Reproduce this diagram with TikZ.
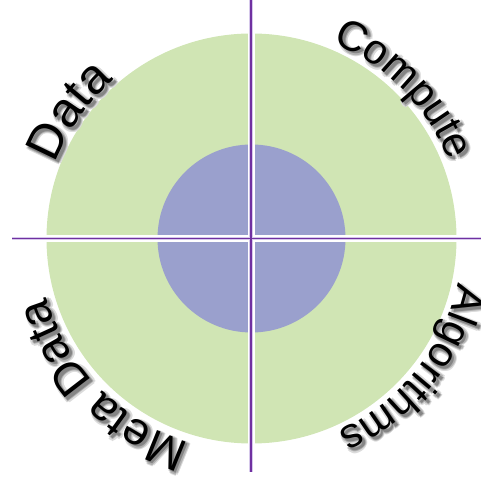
\documentclass[tikz,border=0pt]{standalone}
\usepackage{fontspec}
\setmainfont{Liberation Sans}
\usetikzlibrary{decorations.text}

\definecolor{ringgreen}{RGB}{208,229,180}
\definecolor{corepurple}{RGB}{154,160,205}
\definecolor{axispurple}{RGB}{112,48,160}
\definecolor{axishalo}{RGB}{214,200,235}

% one copy of a label on a clockwise arc round the hub
% #1 radius, #2 centre angle, #3 font size, #4 colour, #5 x shift, #6 y shift, #7 text
\newcommand\arccopy[7]{%
  \path[decorate, decoration={text along path, text align=center,
      text={|\fontsize{#3}{#3}\selectfont\color{#4}|#7}}]
      ([shift={(#2+50:#1pt)}, xshift={(#5)*1pt}, yshift={(#6)*1pt}]hub)
      arc[start angle=#2+50, end angle=#2-50, radius=#1pt];
}

% label with a soft drop shadow built from layered grey copies
% #1 baseline radius, #2 centre angle, #3 font size, #4 text
\newcommand\ringlabel[4]{%
  \foreach \ang in {0,45,...,315}{%
    \arccopy{#1}{#2}{#3}{black!14}{2.8+2.4*cos(\ang)}{-2.8+2.4*sin(\ang)}{#4}%
  }%
  \foreach \ang in {0,90,180,270}{%
    \arccopy{#1}{#2}{#3}{black!30}{2.8+1.2*cos(\ang)}{-2.8+1.2*sin(\ang)}{#4}%
  }%
  \arccopy{#1}{#2}{#3}{black!48}{2.8}{-2.8}{#4}%
  \arccopy{#1}{#2}{#3}{black}{0}{0}{#4}%
}

\begin{document}
\begin{tikzpicture}[x=1pt, y=1pt,
    gap/.style={draw=white, line width=6.8pt},
    halo/.style={draw=axishalo, line width=3.2pt},
    axis/.style={draw=axispurple, line width=1.5pt}]
  \useasboundingbox (0,0) rectangle (481,476);
  \coordinate (hub) at (251.5,237.5);

  % outer ring and core
  \fill[ringgreen] (hub) circle[radius=205pt];
  \fill[corepurple] (hub) circle[radius=94pt];

  % white gaps between the quadrants
  \coordinate (gapN) at (251.7,450);
  \coordinate (gapS) at (251.7,25);
  \coordinate (gapW) at (40,237.5);
  \coordinate (gapE) at (462,237.5);
  \draw[gap] (gapN) -- (gapS);
  \draw[gap] (gapW) -- (gapE);

  % the two axes
  \coordinate (axN) at (251,476);
  \coordinate (axS) at (251,4);
  \coordinate (axW) at (12,237.7);
  \coordinate (axE) at (481,237.7);
  \draw[halo] (axN) -- (axS);
  \draw[halo] (axW) -- (axE);
  \draw[axis] (axN) -- (axS);
  \draw[axis] (axW) -- (axE);

  % quadrant labels
  \ringlabel{210}{145}{49}{Data}
  \ringlabel{212}{44.5}{42}{Compute}
  \ringlabel{211}{-39}{42}{Algorithms}
  \ringlabel{213}{224.5}{46}{Meta Data}
\end{tikzpicture}
\end{document}
